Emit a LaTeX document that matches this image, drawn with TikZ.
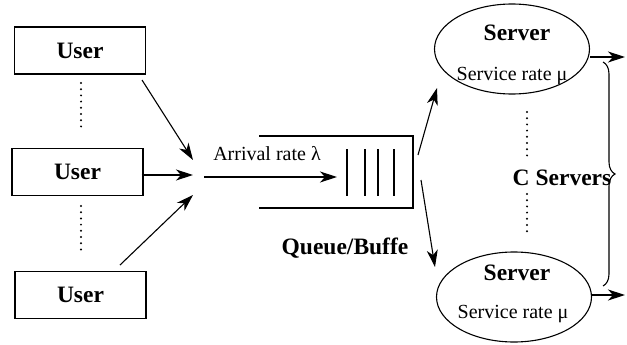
\documentclass[tikz,border=0pt]{standalone}
\usepackage{fontspec}
\setmainfont{Liberation Serif}
\usetikzlibrary{shapes.geometric,arrows.meta,decorations.pathreplacing}

\begin{document}
\begin{tikzpicture}[x=1pt, y=-1pt, line width=1.1pt]
        \tikzstyle{every node}=[inner sep=0pt]
        \tikzstyle{user}=[draw, rectangle, minimum width=131pt, minimum height=47pt, font=\fontsize{23.5}{26}\selectfont\bfseries]
        \tikzstyle{server}=[draw, ellipse, minimum width=155pt, minimum height=90pt]
        \tikzstyle{boldtext}=[font=\fontsize{23.5}{26}\selectfont\bfseries]
        \tikzstyle{plaintext}=[font=\fontsize{20}{24}\selectfont]
        \tikzstyle{dots}=[line width=2.2pt, line cap=round, dash pattern=on 0pt off 6.2pt]
        \tikzstyle{link}=[-{Stealth[length=17pt,width=11pt,inset=5pt]}]
        \useasboundingbox (0,0) rectangle (627,345);
        % users
        \node [user] (user1) at (80,50.5) {User};
        \node [user] (user2) at (77.5,172) {User};
        \node [user] (user3) at (80.5,295) {User};
        \draw [dots] (81,83) -- (81,128);
        \draw [dots] (81,206) -- (81,251);
        \coordinate (join1) at (193,160);
        \coordinate (join2) at (193,175);
        \coordinate (join3) at (193,195);
        \draw [link] (142,80) -- (join1);
        \draw [link] ([xshift=-2pt]user2.east |- join2) -- (join2);
        \draw [link] (120,265) -- (join3);
        % queue
        \coordinate (qin) at (204,177);
        \coordinate (qend) at (337,177);
        \draw [link] (qin) -- (qend);
        \node [plaintext] (arrival) at (267,154) {Arrival rate λ};
        \draw (259,136) -- (413,136) -- (413,208) -- (259,208);
        \foreach \x in {347,365,378,394} \draw (\x,149) -- (\x,196);
        \node [boldtext] (queue) at (345,248) {Queue/Buffe};
        % servers
        \node [server] (server1) at (512,49) {};
        \node [server] (server2) at (514,297) {};
        \node [boldtext] (name1) at (517,33) {Server};
        \node [plaintext] (rate1) at (512,76) {Service rate μ};
        \node [boldtext] (name2) at (517,273) {Server};
        \node [plaintext] (rate2) at (513,314) {Service rate μ};
        \draw [link] (418,155) -- (437,88);
        \draw [link] (421,180) -- (435,267);
        \draw [dots] (527,112) -- (527,157);
        \draw [dots] (527,194) -- (527,235);
        \node [boldtext] (count) at (562,178) {C Servers};
        \coordinate (out1) at (625,57);
        \coordinate (out2) at (625,295);
        \draw [link] (server1.east |- out1) -- (out1);
        \draw [link] (server2.east |- out2) -- (out2);
        \draw [decorate, decoration={brace, amplitude=12pt}] (603,62) -- (603,286);
    \end{tikzpicture}
\end{document}
